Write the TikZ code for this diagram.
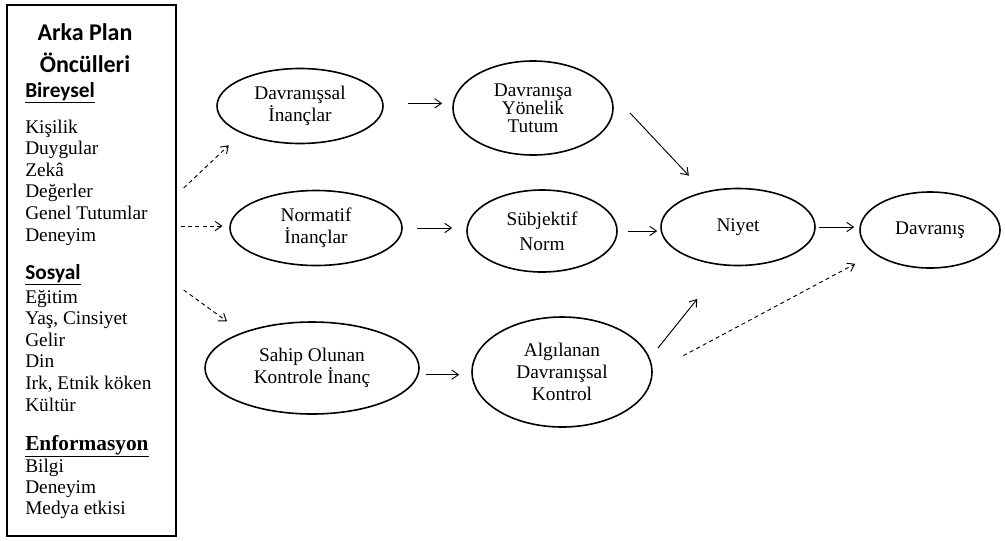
\documentclass[tikz,border=0pt]{standalone}
\usepackage{fontspec}
\setmainfont{Liberation Serif}
\newfontfamily\headfont{Carlito}
\usetikzlibrary{calc,shapes.geometric,arrows.meta}

\begin{document}
\begin{tikzpicture}[x=0.75pt, y=-0.75pt,
    oval/.style={ellipse, draw=black, line width=1.2pt, inner sep=0pt, align=center,
        font=\fontsize{14.5}{16.5}\selectfont},
    arr/.style={-{Straight Barb[length=5pt,width=7pt]}, line width=0.7pt},
    dasharr/.style={arr, dash pattern=on 3pt off 2.5pt},
    item/.style={anchor=base west, inner sep=0pt, font=\fontsize{14.5}{16}\selectfont},
    title/.style={inner sep=0pt, font=\headfont\bfseries\fontsize{18}{20}\selectfont}]

    \useasboundingbox (0,0) rectangle (1005,540);

    % Box of background factors on the left
    \node[draw, line width=1.1pt, inner sep=0pt, minimum width=126.75pt, minimum height=398.25pt]
        (bg) at (91.5,270.5) {};

    \node[title] (ttl1) at (85,32) {Arka Plan};
    \node[title] (ttl2) at (85,63) {Öncülleri};

    % Group headings
    \node[item, font=\headfont\bfseries\fontsize{16}{18}\selectfont] (hbir) at (25,97) {\underline{Bireysel}};
    \node[item, font=\headfont\bfseries\fontsize{16}{18}\selectfont] (hsos) at (25,279) {\underline{Sosyal}};
    \node[item, font=\bfseries\fontsize{16}{18}\selectfont] (henf) at (25,450) {\underline{Enformasyon}};

    % Items of each group
    \foreach \t [count=\i] in {Kişilik, Duygular, Zekâ, Değerler, Genel Tutumlar, Deneyim}
        \node[item] (bir\i) at (25,111.4+21.6*\i) {\t};
    \foreach \t [count=\i] in {Eğitim, {Yaş, Cinsiyet}, Gelir, Din, {Irk, Etnik köken}, Kültür}
        \node[item] (sos\i) at (25,281.4+21.6*\i) {\t};
    \foreach \t [count=\i] in {Bilgi, Deneyim, Medya etkisi}
        \node[item] (enf\i) at (25,451+21*\i) {\t};

    % Ovals of the model
    \node[oval, minimum width=124.5pt, minimum height=56.25pt] (bel) at (300,106) {Davranışsal\\İnançlar};
    \node[oval, minimum width=120pt, minimum height=70.5pt, font=\fontsize{14.5}{13.5}\selectfont]
        (tut) at (533,108) {Davranışa\\Yönelik\\Tutum};
    \node[oval, minimum width=129pt, minimum height=56.25pt] (nor) at (316,228) {Normatif\\İnançlar};
    \node[oval, minimum width=112.5pt, minimum height=61.5pt, font=\fontsize{14.5}{19}\selectfont]
        (sub) at (542,231) {Sübjektif\\Norm};
    \node[oval, minimum width=115.5pt, minimum height=57.75pt] (niy) at (738,227) {Niyet};
    \node[oval, minimum width=105pt, minimum height=57pt] (dav) at (930,230) {Davranış};
    \node[oval, minimum width=160.5pt, minimum height=69pt] (sah) at (312,368) {Sahip Olunan\\Kontrole İnanç};
    \node[oval, minimum width=135pt, minimum height=82.5pt] (alg) at (562,372) {Algılanan\\Davranışsal\\Kontrol};

    % Start points of the dashed arrows at the box
    \coordinate (s1) at ($(bg.east)+(7,-82.5)$);
    \coordinate (s2) at ($(bg.east)+(4,-44.5)$);
    \coordinate (s3) at ($(bg.east)+(7,19.5)$);

    % Dashed arrows from the box
    \draw[dasharr, shorten >=13pt] (s1) -- (bel.205);
    \draw[dasharr, shorten >=5pt] (s2) -- (s2 -| nor.west);
    \draw[dasharr, shorten >=14pt] (s3) -- (sah.153);

    % Solid arrows between the ovals
    \draw[arr, shorten <=18pt, shorten >=7.5pt] ([yshift=2pt]bel.east) -- ([yshift=2pt]bel.east -| tut.west);
    \draw[arr, shorten <=11pt, shorten >=10.5pt] (nor.east) -- (nor.east -| sub.west);
    \draw[arr, shorten <=7.5pt, shorten >=2.25pt] (sub.east) -- (sub.east -| niy.west);
    \draw[arr, shorten <=2.25pt, shorten >=3.75pt] (niy.east) -- (niy.east -| dav.west);
    \draw[arr, shorten <=4.5pt, shorten >=9pt] ([yshift=-5pt]sah.east) -- ([yshift=-5pt]sah.east -| alg.west);
    \draw[arr, shorten <=27.6pt, shorten >=16.5pt] (tut.17) -- (niy.134);
    \draw[arr, shorten <=9.6pt, shorten >=32pt] (alg.9) -- (niy.-110);

    % Dashed arrow to behaviour
    \draw[dasharr, shorten <=26pt, shorten >=16pt] (alg.east) -- (dav.203);

\end{tikzpicture}
\end{document}
